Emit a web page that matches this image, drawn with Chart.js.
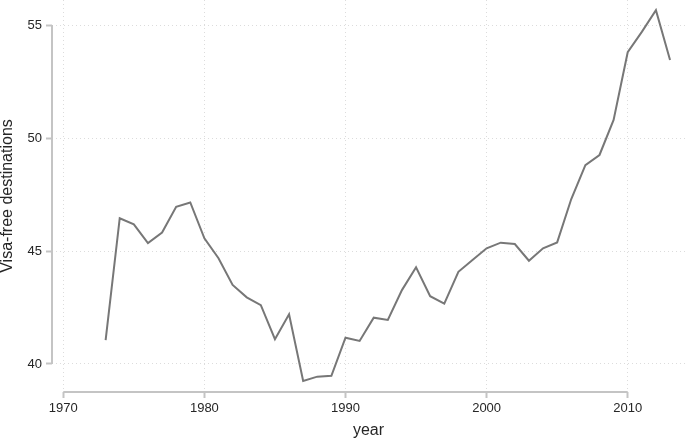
<!DOCTYPE html>
<html lang="en">

<head>
	<meta charset="utf-8">
	<title>Visa-free destinations by year</title>
	<script src="https://cdn.jsdelivr.net/npm/chart.js@4.4.1/dist/chart.umd.min.js"></script>
	<style>
		html,
		body {
			margin: 0;
			background: #fff;
		}

		#wrap {
			width: 685px;
			height: 442px;
		}
	</style>
</head>

<body>
	<div id="wrap"><canvas id="visaChart"></canvas></div>

	<script>
		// values
		var years = [1973, 1974, 1975, 1976, 1977, 1978, 1979, 1980, 1981, 1982, 1983, 1984, 1985, 1986, 1987, 1988, 1989,
			1990, 1991, 1992, 1993, 1994, 1995, 1996, 1997, 1998, 1999, 2000, 2001, 2002, 2003, 2004, 2005, 2006, 2007,
			2008, 2009, 2010, 2011, 2012, 2013]
		var destinations = [41.06, 46.45, 46.18, 45.35, 45.82, 46.96, 47.15, 45.56, 44.68, 43.5, 42.95, 42.6, 41.1, 42.2,
			39.25, 39.44, 39.48, 41.16, 41.02, 42.05, 41.95, 43.27, 44.28, 43.0, 42.67, 44.08, 44.6, 45.12, 45.37, 45.31,
			44.57, 45.12, 45.38, 47.3, 48.8, 49.25, 50.8, 53.8, 54.7, 55.66, 53.45]
		var xTicks = [1970, 1980, 1990, 2000, 2010]
		var yTicks = [40, 45, 50, 55]

		var axisColour = '#c4c4c4'
		var textColour = '#262626'
		var fontFamily = 'Liberation Sans, Arial, sans-serif'

		// stata-style axis lines, only spanning first to last tick
		var axisLines = {
			id: 'axisLines',
			afterDraw: function (chart) {
				var ctx = chart.ctx
				var x = chart.scales.x, y = chart.scales.y
				ctx.save()
				ctx.strokeStyle = axisColour
				ctx.lineWidth = 2
				ctx.beginPath()
				ctx.moveTo(x.getPixelForValue(xTicks[0]), x.top)
				ctx.lineTo(x.getPixelForValue(xTicks[xTicks.length - 1]), x.top)
				ctx.moveTo(y.right, y.getPixelForValue(yTicks[0]))
				ctx.lineTo(y.right, y.getPixelForValue(yTicks[yTicks.length - 1]))
				ctx.stroke()
				ctx.restore()
			}
		}

		var visaChart = new Chart('visaChart', {
			type: 'line',
			data: {
				datasets: [{
					label: 'Visa-free destinations',
					data: years.map(function (yr, i) { return { x: yr, y: destinations[i] } }),
					borderColor: '#777',
					borderWidth: 2,
					pointRadius: 0,
					tension: 0,
					fill: false
				}]
			},
			options: {
				responsive: true,
				maintainAspectRatio: false,
				animation: false,
				layout: { padding: 0 },
				plugins: {
					legend: { display: false },
					tooltip: { enabled: false }
				},
				scales: {
					x: {
						type: 'linear',
						min: 1969.2,
						max: 2014.06,
						afterBuildTicks: function (s) { s.ticks = xTicks.map(function (v) { return { value: v } }) },
						afterFit: function (s) {
							s.height = 50
							s.paddingLeft = 0
							s.paddingRight = 0
						},
						border: { display: false, dash: [1, 3] },
						grid: {
							color: '#dcdcdc',
							lineWidth: 1,
							tickColor: axisColour,
							tickLength: 6,
							tickWidth: 2
						},
						ticks: {
							color: textColour,
							padding: 3,
							maxRotation: 0,
							font: { family: fontFamily, size: 13 },
							callback: function (v) { return String(v) }
						},
						title: {
							display: true,
							text: 'year',
							color: textColour,
							padding: { top: 0, bottom: 2 },
							font: { family: fontFamily, size: 16 }
						}
					},
					y: {
						min: 38.76,
						max: 56.11,
						afterBuildTicks: function (s) { s.ticks = yTicks.map(function (v) { return { value: v } }) },
						afterFit: function (s) {
							s.width = 52
							s.paddingTop = 0
							s.paddingBottom = 0
						},
						border: { display: false, dash: [1, 3] },
						grid: {
							color: '#dcdcdc',
							lineWidth: 1,
							tickColor: axisColour,
							tickLength: 6,
							tickWidth: 2
						},
						ticks: {
							color: textColour,
							padding: 4,
							font: { family: fontFamily, size: 13 }
						},
						title: {
							display: true,
							text: 'Visa-free destinations',
							color: textColour,
							padding: { top: 0, bottom: 0 },
							font: { family: fontFamily, size: 16, lineHeight: 1 }
						}
					}
				}
			},
			plugins: [axisLines]
		});
	</script>
</body>

</html>
